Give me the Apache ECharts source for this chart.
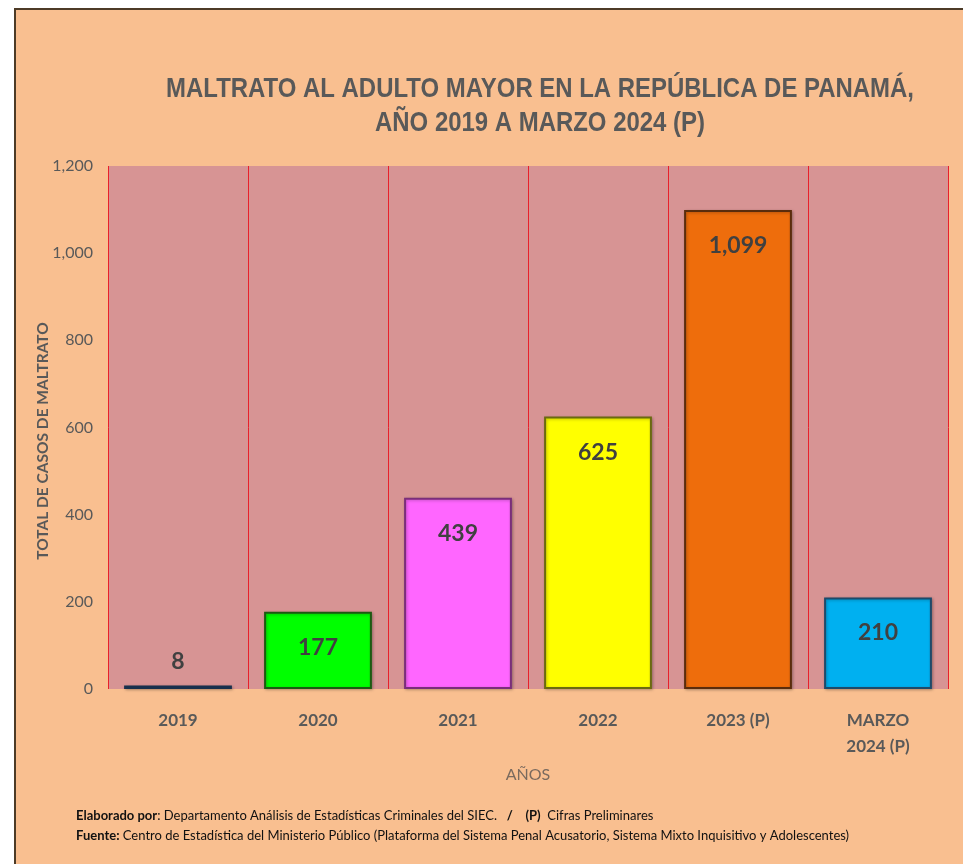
<!DOCTYPE html>
<html>
<head>
<meta charset="utf-8">
<script src="https://cdn.jsdelivr.net/npm/echarts@6/dist/echarts.min.js"></script>
<style>
  html, body { margin: 0; padding: 0; background: #fff; }
  .frame {
    position: absolute; left: 14px; top: 8px; width: 963px; height: 870px;
    background: #F9BF90; border-top: 2px solid #4d3b27; border-left: 2px solid #4d3b27;
  }
  #chart { position: absolute; left: 0; top: 0; width: 963px; height: 864px; }
</style>
</head>
<body>
<div class="frame"></div>
<div id="chart"></div>
<script>
// datos
const categories = ['2019', '2020', '2021', '2022', '2023 (P)', 'MARZO\n2024 (P)'];
const casos = [8, 177, 439, 625, 1099, 210];
const barColors = ['#1F3B5C', '#00FF00', '#FF66FF', '#FFFF00', '#EE6D0C', '#00B0F0'];
const borderColors = ['#17304d', '#1c5a12', '#7a2e7a', '#6b6a10', '#5a2c0c', '#1d4a6a'];
const yTicks = [0, 200, 400, 600, 800, 1000, 1200];

const chart = echarts.init(document.getElementById('chart'), null, { renderer: 'canvas' });

const gris = '#595959';
const footRich = {
  b: { fontFamily: 'Lato, sans-serif', fontSize: 13, fontWeight: 'bold', fill: '#111' },
  n: { fontFamily: 'Lato, sans-serif', fontSize: 13, fill: '#111' }
};

const option = {
  backgroundColor: 'transparent',
  animation: false,
  grid: {
    left: 108, right: 15, top: 166, bottom: 175,
    show: true, backgroundColor: '#D79494', borderWidth: 0
  },
  xAxis: {
    type: 'category',
    data: categories,
    name: 'AÑOS',
    nameLocation: 'middle',
    nameGap: 78,
    nameTextStyle: { fontFamily: 'Lato, sans-serif', fontSize: 16, color: '#7a6a5e' },
    axisLine: { show: false },
    axisTick: { show: false },
    axisLabel: {
      margin: 19, fontFamily: 'Lato, sans-serif', fontWeight: 'bold',
      fontSize: 17, color: gris, lineHeight: 26
    },
    splitLine: { show: true, lineStyle: { color: '#E8202A', width: 1 } }
  },
  yAxis: {
    type: 'value',
    min: 0, max: 1200, interval: 200,
    axisLine: { show: false },
    axisTick: { show: false },
    splitLine: { show: false },
    axisLabel: {
      margin: 15, fontFamily: 'Lato, sans-serif', fontSize: 16, color: gris,
      formatter: v => yTicks.includes(v) ? v.toLocaleString('en-US') : ''
    }
  },
  series: [{
    type: 'bar',
    barWidth: '77%',
    data: casos.map((v, i) => ({
      value: v,
      itemStyle: { color: barColors[i], borderColor: borderColors[i] },
      label: i === 0 ? { position: 'top', distance: 12 } : {}
    })),
    itemStyle: {
      borderWidth: 2,
      shadowColor: 'rgba(0,0,0,0.25)',
      shadowBlur: 3, shadowOffsetX: 1, shadowOffsetY: 1
    },
    label: {
      show: true, position: 'insideTop', distance: 24,
      fontFamily: 'Lato, sans-serif', fontWeight: 'bold', fontSize: 23, color: '#404040',
      formatter: p => p.value.toLocaleString('en-US')
    }
  }],
  graphic: [
    {
      // titulo (fuente estrecha simulada con scaleX)
      type: 'text', x: 540, y: 72, scaleX: 0.855, originX: 0,
      style: {
        text: 'MALTRATO AL ADULTO MAYOR EN LA REPÚBLICA DE PANAMÁ,\nAÑO 2019 A MARZO 2024 (P)',
        fontFamily: '"Liberation Sans", Arial, sans-serif',
        fontSize: 28, fontWeight: 'bold', fill: gris, lineHeight: 34, align: 'center'
      }
    },
    {
      type: 'text', x: 43, y: 441, rotation: Math.PI / 2,
      style: {
        text: 'TOTAL DE CASOS DE MALTRATO',
        fontFamily: 'Lato, sans-serif', fontSize: 15.5, fontWeight: 'bold', fill: gris,
        align: 'center', verticalAlign: 'middle'
      }
    },
    {
      type: 'text', left: 76, top: 809,
      style: {
        rich: footRich,
        text: '{b|Elaborado por}{n|: Departamento Análisis de Estadísticas Criminales del SIEC.  }{b| /    (P)}{n|  Cifras Preliminares}'
      }
    },
    {
      type: 'text', left: 76, top: 829,
      style: {
        rich: footRich,
        text: '{b|Fuente:}{n| Centro de Estadística del Ministerio Público (Plataforma del Sistema Penal Acusatorio, Sistema Mixto Inquisitivo y Adolescentes)}'
      }
    }
  ]
};

chart.setOption(option);
</script>
</body>
</html>
